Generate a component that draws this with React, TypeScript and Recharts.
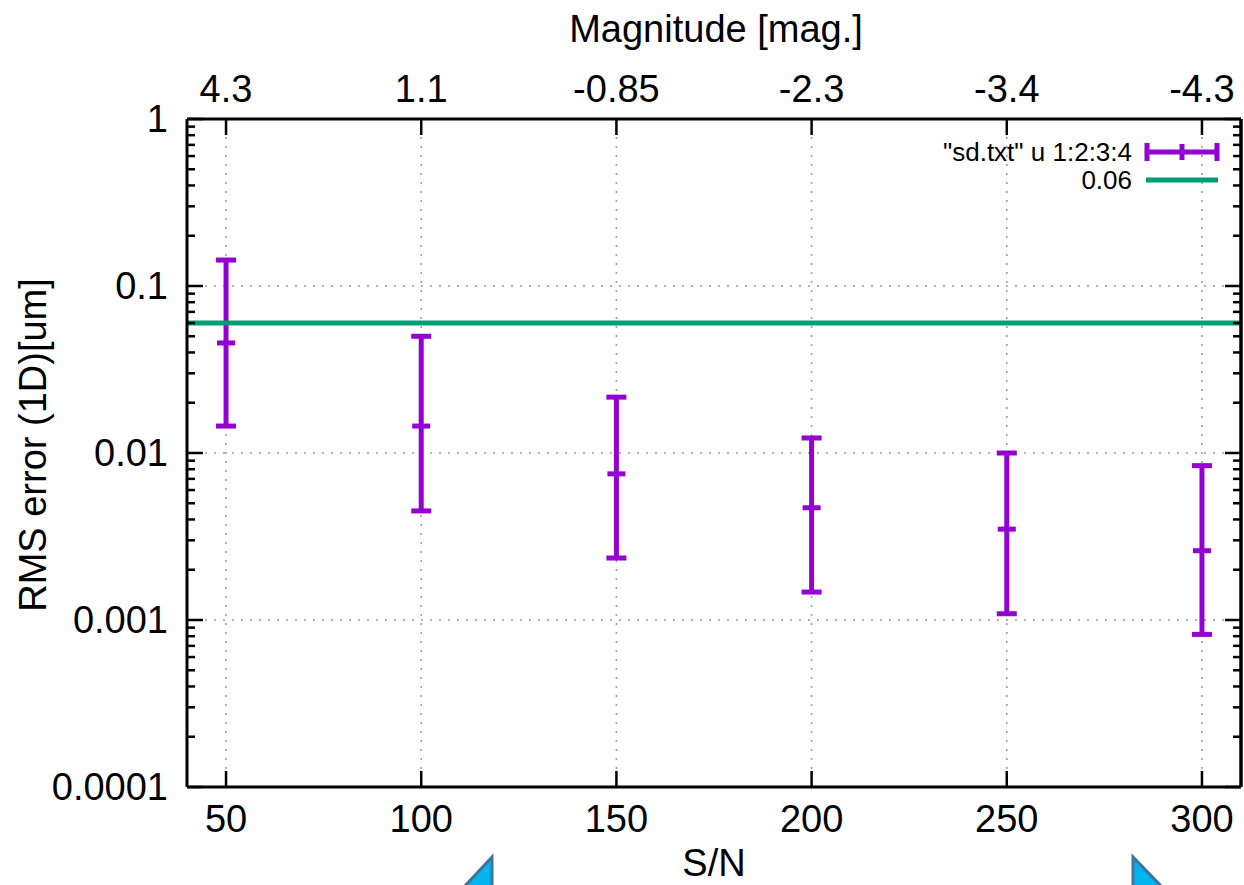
import React from "react";
import {
  ComposedChart,
  Scatter,
  ErrorBar,
  XAxis,
  YAxis,
  ReferenceLine,
  Legend,
} from "recharts";

// S/N values and the RMS error (centre, lower, upper)
const snr = [50, 100, 150, 200, 250, 300];
const rmsMid = [0.0456, 0.0145, 0.0075, 0.0047, 0.0035, 0.0026];
const rmsLow = [0.0145, 0.0045, 0.00235, 0.00147, 0.00109, 0.00082];
const rmsHigh = [0.143, 0.05, 0.0216, 0.0123, 0.01, 0.0084];
const magLabels = ["4.3", "1.1", "-0.85", "-2.3", "-3.4", "-4.3"];
const threshold = 0.06;
const xDomain = [40, 310];
const yMajor = [0.0001, 0.001, 0.01, 0.1, 1];
const yMinorSteps = [2, 3, 4, 5, 6, 7, 8, 9];

const FONT = "'Liberation Sans', Arial, sans-serif";
const PURPLE = "#9400d3";
const GREEN = "#009e73";

const W = 1244;
const H = 885;
const M = { top: 0, right: 3, bottom: 0, left: 0 };
const Y_AXIS_W = 187;
const PLOT_W = W - Y_AXIS_W - M.right;

const yTicks: number[] = [];
yMajor.forEach((m, i) => {
  yTicks.push(m);
  if (i < yMajor.length - 1) yMinorSteps.forEach((s) => yTicks.push(m * s));
});

const data = snr.map((x, i) => ({
  x,
  y: rmsMid[i],
  err: [rmsMid[i] - rmsLow[i], rmsHigh[i] - rmsMid[i]],
}));

const isMajor = (v: number) => yMajor.includes(v);

// left ticks with labels, mirrored inward ticks on the right frame edge
const LeftTick = (props: any) => {
  const { x, y, payload } = props;
  const major = isMajor(payload.value);
  const len = major ? 16 : 8;
  const xr = x + PLOT_W;
  return (
    <g>
      <line x1={x} x2={x + len} y1={y} y2={y} stroke="#000" strokeWidth={2.5} />
      <line x1={xr} x2={xr - len} y1={y} y2={y} stroke="#000" strokeWidth={2.5} />
      {major && (
        <text x={x - 19} y={y + 13} textAnchor="end" fontSize={38} fontFamily={FONT} fill="#000">
          {String(payload.value)}
        </text>
      )}
    </g>
  );
};

const BottomTick = (props: any) => {
  const { x, y, payload } = props;
  return (
    <g>
      <line x1={x} x2={x} y1={y} y2={y - 16} stroke="#000" strokeWidth={2.5} />
      <text x={x} y={y + 45} textAnchor="middle" fontSize={38} fontFamily={FONT} fill="#000">
        {payload.value}
      </text>
    </g>
  );
};

const TopTick = (props: any) => {
  const { x, y, payload } = props;
  const i = snr.indexOf(payload.value);
  return (
    <g>
      <line x1={x} x2={x} y1={y} y2={y + 16} stroke="#000" strokeWidth={2.5} />
      <text x={x} y={y - 17} textAnchor="middle" fontSize={38} fontFamily={FONT} fill="#000">
        {magLabels[i]}
      </text>
    </g>
  );
};

const CentreMark = (props: any) => {
  const { cx, cy } = props;
  return <line x1={cx - 9} x2={cx + 9} y1={cy} y2={cy} stroke={PURPLE} strokeWidth={5} />;
};

const KeyBox = () => (
  <div style={{ fontFamily: FONT, fontSize: 26, color: "#000" }}>
    <div style={{ display: "flex", justifyContent: "flex-end", alignItems: "center", height: 28 }}>
      <span>"sd.txt" u 1:2:3:4</span>
      <svg width={76} height={22} style={{ marginLeft: 12 }}>
        <line x1={2} x2={74} y1={11} y2={11} stroke={PURPLE} strokeWidth={5} />
        <line x1={3} x2={3} y1={2} y2={20} stroke={PURPLE} strokeWidth={5} />
        <line x1={38} x2={38} y1={3} y2={19} stroke={PURPLE} strokeWidth={5} />
        <line x1={73} x2={73} y1={2} y2={20} stroke={PURPLE} strokeWidth={5} />
      </svg>
    </div>
    <div style={{ display: "flex", justifyContent: "flex-end", alignItems: "center", height: 28 }}>
      <span>0.06</span>
      <svg width={76} height={22} style={{ marginLeft: 12 }}>
        <line x1={2} x2={74} y1={11} y2={11} stroke={GREEN} strokeWidth={5} />
      </svg>
    </div>
  </div>
);

export default function App() {
  return (
    <div style={{ position: "absolute", left: 0, top: 0, width: W, height: H, background: "#fff" }}>
      <ComposedChart width={W} height={H} data={data} margin={M}>
        <XAxis
          dataKey="x"
          type="number"
          domain={xDomain}
          ticks={snr}
          interval={0}
          height={98}
          tickSize={0}
          tickMargin={0}
          tick={<BottomTick />}
          axisLine={{ stroke: "#000", strokeWidth: 3 }}
          allowDataOverflow
        />
        <XAxis
          xAxisId="top"
          orientation="top"
          dataKey="x"
          type="number"
          domain={xDomain}
          ticks={snr}
          interval={0}
          height={119}
          tickSize={0}
          tickMargin={0}
          tick={<TopTick />}
          axisLine={{ stroke: "#000", strokeWidth: 3 }}
          allowDataOverflow
        />
        <YAxis
          dataKey="y"
          type="number"
          scale="log"
          domain={[0.0001, 1]}
          ticks={yTicks}
          interval={0}
          width={Y_AXIS_W}
          tickSize={0}
          tickMargin={0}
          tick={<LeftTick />}
          axisLine={{ stroke: "#000", strokeWidth: 3 }}
          allowDataOverflow
        />
        {snr.map((v) => (
          <ReferenceLine key={"gx" + v} x={v} stroke="#9a9a9a" strokeWidth={1.5} strokeDasharray="2 7" />
        ))}
        {[0.1, 0.01, 0.001].map((v) => (
          <ReferenceLine key={"gy" + v} y={v} stroke="#9a9a9a" strokeWidth={1.5} strokeDasharray="2 7" />
        ))}
        <Scatter dataKey="y" fill={PURPLE} shape={<CentreMark />} isAnimationActive={false}>
          <ErrorBar dataKey="err" direction="y" width={10} strokeWidth={5} stroke={PURPLE} isAnimationActive={false} />
        </Scatter>
        <ReferenceLine y={threshold} stroke={GREEN} strokeWidth={5} />
        <ReferenceLine x={xDomain[1]} stroke="#000" strokeWidth={3.5} />
        <Legend
          layout="vertical"
          align="center"
          verticalAlign="middle"
          content={<KeyBox />}
          wrapperStyle={{ position: "absolute", left: 880, top: 138, width: 340, height: 60 }}
        />
      </ComposedChart>
      <svg width={W} height={H} style={{ position: "absolute", left: 0, top: 0, pointerEvents: "none" }}>
        <text x={716} y={42} textAnchor="middle" fontSize={38} fontFamily={FONT} fill="#000">
          Magnitude [mag.]
        </text>
        <text x={714} y={876} textAnchor="middle" fontSize={38} fontFamily={FONT} fill="#000">
          S/N
        </text>
        <text
          x={0}
          y={0}
          transform="translate(46 445) rotate(-90)"
          textAnchor="middle"
          fontSize={38}
          fontFamily={FONT}
          fill="#000"
        >
          RMS error (1D)[um]
        </text>
        <polygon points="492,857 492,888 463,888" fill="#00b4f0" stroke="#41719c" strokeWidth={3} />
        <polygon points="1133,857 1133,888 1163,888" fill="#00b4f0" stroke="#41719c" strokeWidth={3} />
      </svg>
    </div>
  );
}
